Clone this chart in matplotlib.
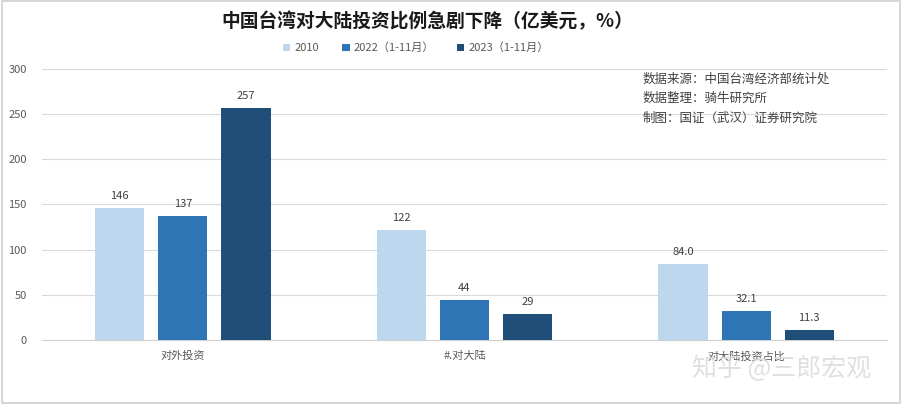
import matplotlib
matplotlib.use("Agg")
import matplotlib.pyplot as plt
import numpy as np
from matplotlib.patches import Rectangle

plt.rcParams['font.family'] = ['Noto Sans CJK SC', 'DejaVu Sans']

categories = ["对外投资", "#.对大陆", "对大陆投资占比"]
series_names = ["2010", "2022（1-11月）", "2023（1-11月）"]
v2010 = [146, 122, 84.0]
v2022 = [137, 44, 32.1]
v2023 = [257, 29, 11.3]
label_fmt = ["{:.0f}", "{:.0f}", "{:.1f}"]
yticks = [0, 50, 100, 150, 200, 250, 300]
title = "中国台湾对大陆投资比例急剧下降（亿美元，%）"
notes = ["数据来源：中国台湾经济部统计处", "数据整理：骑牛研究所", "制图：国证（武汉）证券研究院"]
watermark = "知乎 @三郎宏观"

colors = ["#BDD7EE", "#2E75B6", "#1F4E79"]

fig = plt.figure(figsize=(9.02, 4.04), dpi=100)
ax = fig.add_axes([42/902, 1-340/404, 845/902, 271/404])

x = np.arange(len(categories))
w = 0.175
off = 0.224
for i, (vals, c, name) in enumerate(zip([v2010, v2022, v2023], colors, series_names)):
    pos = x + (i - 1) * off
    bars = ax.bar(pos, vals, width=w, color=c, label=name, zorder=3)
    for j, (b, v) in enumerate(zip(bars, vals)):
        ax.annotate(label_fmt[j].format(v), (b.get_x() + b.get_width()/2, v),
                    xytext=(0, 5), textcoords="offset points", ha="center", va="bottom",
                    fontsize=8, color="#404040")

ax.set_xlim(-0.5, 2.5)
ax.set_ylim(0, 300)
ax.set_yticks(yticks)
ax.set_xticks(x)
ax.set_xticklabels(categories)
ax.tick_params(axis='both', length=0, labelsize=8, colors="#595959")
ax.tick_params(axis='y', pad=11)
ax.tick_params(axis='x', pad=8)
ax.grid(axis='y', color="#D9D9D9", linewidth=0.8, zorder=0)
for s in ["top", "right", "left"]:
    ax.spines[s].set_visible(False)
ax.spines["bottom"].set_color("#D0D0D0")

fig.text(427/902, 1-22/404, title, ha="center", va="center", fontsize=13.5, fontweight="bold", color="#1a1a1a")

leg = fig.legend(loc="center", bbox_to_anchor=(416/902, 1-48/404), ncol=3, frameon=False,
                 fontsize=8, handlelength=0.7, handleheight=0.7, columnspacing=2.0, handletextpad=0.4)
for t in leg.get_texts():
    t.set_color("#595959")

for k, n in enumerate(notes):
    fig.text(643/902, 1-(79 + k*19.5)/404, n, ha="left", va="center", fontsize=9, color="#404040")

fig.text(782/902, 1-369/404, watermark, ha="center", va="center", fontsize=18, color="#dcdcdc",
         alpha=0.9, zorder=10)

fig.patches.append(Rectangle((0.002, 0.003), 0.996, 0.994, transform=fig.transFigure,
                             fill=False, edgecolor="#D0D0D0", linewidth=1.2))

fig.savefig("out.png", dpi=100)
